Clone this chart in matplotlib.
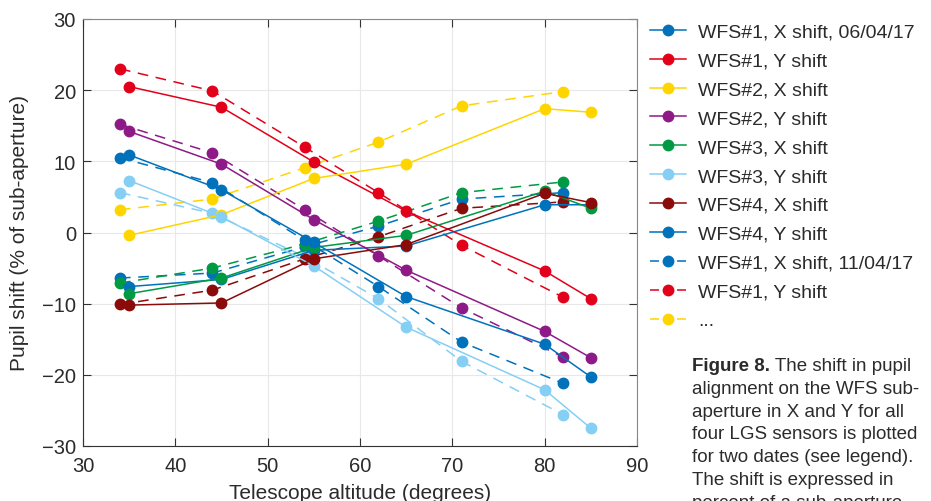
import matplotlib
matplotlib.use('Agg')
import matplotlib.pyplot as plt
from matplotlib.lines import Line2D

plt.rcParams['font.family'] = ['Liberation Sans', 'DejaVu Sans']

# telescope altitude (degrees) for the two nights
alt_0604 = [35, 45, 55, 65, 80, 85]
alt_1104 = [34, 44, 54, 62, 71, 82]

# pupil shift, 06/04/17 (solid)
wfs1_x_0604 = [-7.6, -6.6, -2.5, -1.9, 3.9, 3.9]
wfs1_y_0604 = [20.5, 17.6, 9.9, 3.0, -5.4, -9.3]
wfs2_x_0604 = [-0.4, 2.5, 7.6, 9.6, 17.4, 16.9]
wfs2_y_0604 = [14.2, 9.6, 1.8, -5.3, -13.9, -17.6]
wfs3_x_0604 = [-8.6, -6.4, -2.1, -0.4, 5.8, 3.4]
wfs3_y_0604 = [7.3, 2.2, -4.7, -13.3, -22.1, -27.5]
wfs4_x_0604 = [-10.2, -9.9, -3.7, -1.7, 5.5, 4.2]
wfs4_y_0604 = [10.9, 6.0, -1.4, -9.0, -15.7, -20.3]

# pupil shift, 11/04/17 (dashed)
wfs1_x_1104 = [-6.4, -5.7, -2.0, 0.9, 4.7, 5.6]
wfs1_y_1104 = [23.0, 19.9, 12.0, 5.6, -1.8, -9.1]
wfs2_x_1104 = [3.2, 4.7, 9.1, 12.7, 17.8, 19.8]
wfs2_y_1104 = [15.2, 11.2, 3.2, -3.3, -10.6, -17.5]
wfs3_x_1104 = [-7.1, -5.0, -1.6, 1.6, 5.6, 7.1]
wfs3_y_1104 = [5.6, 2.7, -3.4, -9.3, -18.1, -25.6]
wfs4_x_1104 = [-10.1, -8.1, -3.7, -0.6, 3.4, 4.3]
wfs4_y_1104 = [10.5, 7.0, -1.1, -7.6, -15.4, -21.2]

series_names = ['WFS#1, X shift, 06/04/17', 'WFS#1, Y shift', 'WFS#2, X shift',
                'WFS#2, Y shift', 'WFS#3, X shift', 'WFS#3, Y shift',
                'WFS#4, X shift', 'WFS#4, Y shift']
dashed_names = ['WFS#1, X shift, 11/04/17', 'WFS#1, Y shift', '...']

colors = ['#0072BC', '#E2001A', '#FFD500', '#8E1A87',
          '#009A44', '#86CFF4', '#8B0A0A', '#0072BC']

solid_data = [wfs1_x_0604, wfs1_y_0604, wfs2_x_0604, wfs2_y_0604,
              wfs3_x_0604, wfs3_y_0604, wfs4_x_0604, wfs4_y_0604]
dashed_data = [wfs1_x_1104, wfs1_y_1104, wfs2_x_1104, wfs2_y_1104,
               wfs3_x_1104, wfs3_y_1104, wfs4_x_1104, wfs4_y_1104]

text_col = '#2b2b2b'

fig = plt.figure(figsize=(9.31, 5.02), dpi=100)
ax = fig.add_axes([83 / 931, 1 - 447 / 502, 554 / 931, 427 / 502])

solid_lines = []
for ys, c in zip(solid_data, colors):
    ln, = ax.plot(alt_0604, ys, '-o', color=c, lw=1.1, ms=7.5, zorder=3)
    solid_lines.append(ln)

for ys, c in zip(dashed_data, colors):
    ax.plot(alt_1104, ys, 'o', ls=(0, (7, 5)), color=c, lw=1.1, ms=7.5, zorder=2)

ax.set_xlim(30, 90)
ax.set_ylim(-30, 30)
ax.set_xticks(range(30, 91, 10))
ax.set_yticks(range(-30, 31, 10))
ax.grid(True, color='#E8E8E8', lw=0.8, zorder=0)
ax.set_axisbelow(True)
ax.tick_params(direction='in', length=6, width=0.8, top=True, right=True,
               labelsize=14.5, colors='#333333', labelcolor=text_col)
ax.tick_params(axis='y', pad=5)
ax.tick_params(axis='x', pad=7)
for side in ['left', 'bottom']:
    ax.spines[side].set_color('#333333')
for side in ['top', 'right']:
    ax.spines[side].set_color('#888888')

ax.set_xlabel('Telescope altitude (degrees)', fontsize=15, color=text_col, labelpad=6)
ax.set_ylabel('Pupil shift (% of sub-aperture)', fontsize=15, color=text_col, labelpad=9)

# legend: the 8 solid series, then the first three dashed ones
# (dashed handles drawn as "- o -" like the original)
dash_handles = [Line2D([], [], color=c, marker='o', ms=7.5, lw=1.1, ls=(0, (5.9, 11.8)))
                for c in colors[:3]]
handles = solid_lines + dash_handles
labels = series_names + dashed_names
ax.legend(handles, labels, loc='upper left', bbox_to_anchor=(650 / 931, 1 - 24 / 502),
          bbox_transform=fig.transFigure, frameon=False, fontsize=14,
          handlelength=1.85, handletextpad=0.62, labelspacing=0.58, borderaxespad=0,
          borderpad=0, labelcolor=text_col)

# caption on the lower right
cap_x = 692 / 931
cap_base = 371
cap_step = 22.8
t1 = fig.text(cap_x, 1 - cap_base / 502, 'Figure 8.', fontsize=13.5, weight='bold',
              color=text_col, va='baseline')
ax.annotate(' The shift in pupil', xy=(1, 0), xycoords=t1, fontsize=13.5,
            color=text_col, va='bottom', annotation_clip=False)
caption_rest = ['alignment on the WFS sub-', 'aperture in X and Y for all',
                'four LGS sensors is plotted', 'for two dates (see legend).',
                'The shift is expressed in', 'percent of a sub-aperture']
for i, line in enumerate(caption_rest):
    fig.text(cap_x, 1 - (cap_base + cap_step * (i + 1)) / 502, line, fontsize=13.5,
             color=text_col, va='baseline')

fig.savefig('out.png', dpi=100)
